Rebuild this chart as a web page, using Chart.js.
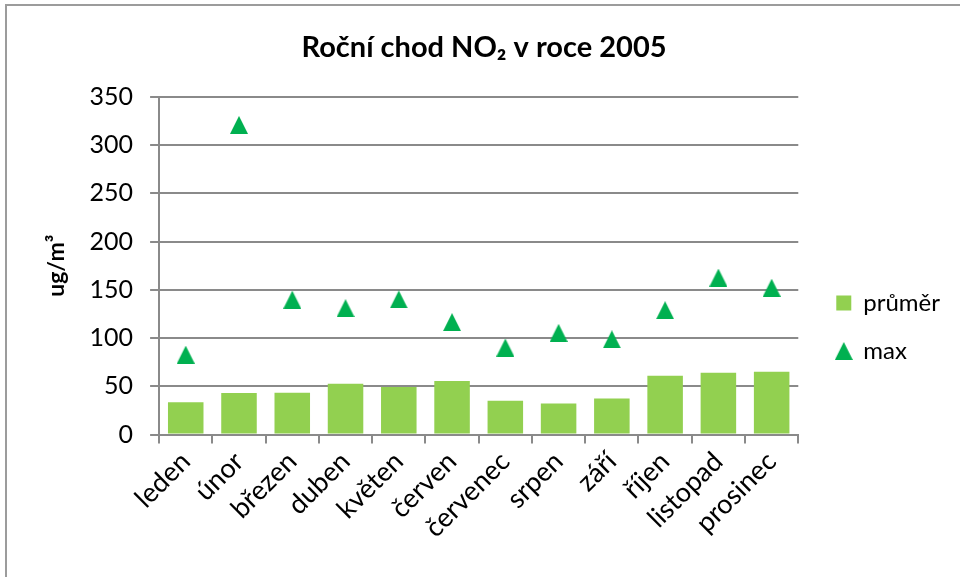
<!DOCTYPE html>
<html>
<head>
<meta charset="utf-8">
<script src="https://cdn.jsdelivr.net/npm/chart.js@4/dist/chart.umd.min.js"></script>
<style>
  html, body { margin: 0; padding: 0; background: #fff; }
  canvas { display: block; }
</style>
</head>
<body>
<canvas id="no2Chart" width="960" height="577"></canvas>
<script>
'use strict';

// Data
const months = ['leden', 'únor', 'březen', 'duben', 'květen', 'červen',
    'červenec', 'srpen', 'září', 'říjen', 'listopad', 'prosinec'];
const prumer = [33.4, 43.1, 43.4, 52.8, 49.3, 55.6, 35.2, 32.1, 37.3, 61, 64.2, 65.2];
const maxima = [82.8, 320.9, 139.8, 131, 140, 116.6, 90.2, 105.4, 98.7, 128.9, 162.7, 152.2];
const yTicks = [0, 50, 100, 150, 200, 250, 300, 350];

const FONT = 'Lato, "Open Sans", sans-serif';
const GRID = '#8a8a8a';
const BAR_GREEN = '#92d050';
const MARK_GREEN = '#00b050';

// Excel-style triangle marker: centred on its bounding box, not its centroid
function makeTriangle(size, color) {
    const c = document.createElement('canvas');
    c.width = size;
    c.height = size;
    const ctx = c.getContext('2d');
    ctx.fillStyle = color;
    ctx.beginPath();
    ctx.moveTo(size / 2, 0);
    ctx.lineTo(size, size);
    ctx.lineTo(0, size);
    ctx.closePath();
    ctx.fill();
    return c;
}
const triangle = makeTriangle(18, MARK_GREEN);

// Frame lines on the top and left edge, like the cropped Excel chart
const framePlugin = {
    id: 'frame',
    beforeDraw(chart) {
        const ctx = chart.ctx;
        ctx.save();
        ctx.fillStyle = '#fff';
        ctx.fillRect(0, 0, chart.width, chart.height);
        ctx.strokeStyle = '#9c9c9c';
        ctx.lineWidth = 2;
        ctx.beginPath();
        ctx.moveTo(6, chart.height);
        ctx.lineTo(6, 5);
        ctx.lineTo(chart.width, 5);
        ctx.stroke();
        ctx.restore();
    }
};

// Excel puts the legend lower and further right than Chart.js does
const legendShift = {
    id: 'legendShift',
    afterLayout(chart) {
        const lg = chart.legend;
        if (lg) {
            lg.top += 54;
            lg.bottom += 54;
            lg.left += 14;
            lg.right += 14;
        }
    }
};

new Chart(document.getElementById('no2Chart'), {
    type: 'bar',
    data: {
        labels: months,
        datasets: [{
            label: 'průměr',
            data: prumer,
            backgroundColor: BAR_GREEN,
            barPercentage: 0.667,
            categoryPercentage: 1,
            pointStyle: 'rect'
        }, {
            type: 'line',
            label: 'max',
            data: maxima,
            showLine: false,
            pointStyle: triangle,
            backgroundColor: MARK_GREEN,
            borderColor: MARK_GREEN,
            borderWidth: 0
        }]
    },
    options: {
        responsive: false,
        animation: false,
        layout: {
            padding: { left: 32, right: 24, top: 0, bottom: 31 }
        },
        plugins: {
            title: {
                display: true,
                text: 'Roční chod NO₂ v roce 2005',
                color: '#000',
                font: { family: FONT, size: 29, weight: 'bold' },
                padding: { top: 30, bottom: 32 }
            },
            legend: {
                position: 'right',
                labels: {
                    usePointStyle: true,
                    boxWidth: 15,
                    boxHeight: 15,
                    padding: 24,
                    color: '#000',
                    font: { family: FONT, size: 24 }
                }
            },
            tooltip: { enabled: false }
        },
        scales: {
            x: {
                grid: {
                    offset: true,
                    drawOnChartArea: false,
                    drawTicks: true,
                    tickLength: 9,
                    color: GRID,
                    lineWidth: 2
                },
                border: { color: GRID, width: 2 },
                ticks: {
                    color: '#000',
                    font: { family: FONT, size: 27 },
                    minRotation: 45,
                    maxRotation: 45,
                    padding: 2
                }
            },
            y: {
                min: 0,
                max: 350,
                afterBuildTicks(axis) {
                    axis.ticks = yTicks.map(v => ({ value: v }));
                },
                grid: {
                    color: GRID,
                    lineWidth: 2,
                    tickLength: 9
                },
                border: { color: GRID, width: 2 },
                ticks: {
                    color: '#000',
                    font: { family: FONT, size: 25 },
                    padding: 17
                },
                title: {
                    display: true,
                    text: 'ug/m³',
                    color: '#000',
                    font: { family: FONT, size: 23, weight: 'bold' },
                    padding: { top: 11, bottom: 2 }
                }
            }
        }
    },
    plugins: [framePlugin, legendShift]
});
</script>
</body>
</html>
